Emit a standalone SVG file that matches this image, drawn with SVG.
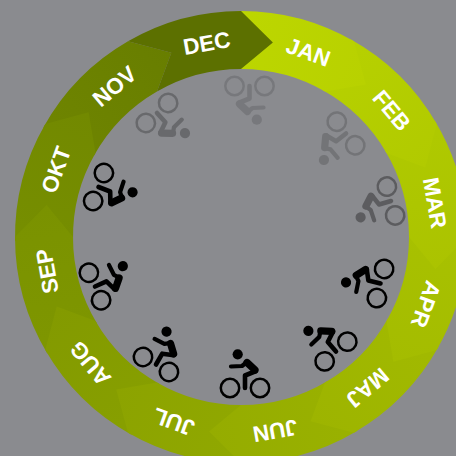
<svg xmlns="http://www.w3.org/2000/svg" width="456" height="456" viewBox="0 0 456 456">
<style>
.l{font:bold 22.5px "Liberation Sans",Arial,sans-serif;fill:#fff;text-anchor:middle}
.w{fill:none;stroke:#000;stroke-width:2.5}
.b{fill:none;stroke:#000;stroke-linecap:round;stroke-linejoin:round}
</style>
<defs>
<linearGradient id="gjan" gradientUnits="userSpaceOnUse" x1="241" y1="40" x2="365.8" y2="84.6"><stop offset="0" stop-color="#bcd600"/><stop offset="1" stop-color="#b8d100"/></linearGradient>
<linearGradient id="gfeb" href="#gjan"><stop offset="0" stop-color="#b6d000"/><stop offset="1" stop-color="#b1ca00"/></linearGradient>
<linearGradient id="gmar" href="#gjan"><stop offset="0" stop-color="#afc900"/><stop offset="1" stop-color="#abc300"/></linearGradient>
<linearGradient id="gapr" href="#gjan"><stop offset="0" stop-color="#a8c100"/><stop offset="1" stop-color="#a4bc00"/></linearGradient>
<linearGradient id="gmaj" href="#gjan"><stop offset="0" stop-color="#a1b900"/><stop offset="1" stop-color="#9db400"/></linearGradient>
<linearGradient id="gjun" href="#gjan"><stop offset="0" stop-color="#99b100"/><stop offset="1" stop-color="#95ac00"/></linearGradient>
<linearGradient id="gjul" href="#gjan"><stop offset="0" stop-color="#90a800"/><stop offset="1" stop-color="#8ca300"/></linearGradient>
<linearGradient id="gaug" href="#gjan"><stop offset="0" stop-color="#879f00"/><stop offset="1" stop-color="#839a00"/></linearGradient>
<linearGradient id="gsep" href="#gjan"><stop offset="0" stop-color="#7e9600"/><stop offset="1" stop-color="#7a9200"/></linearGradient>
<linearGradient id="gokt" href="#gjan"><stop offset="0" stop-color="#768e00"/><stop offset="1" stop-color="#728900"/></linearGradient>
<linearGradient id="gnov" href="#gjan"><stop offset="0" stop-color="#6e8400"/><stop offset="1" stop-color="#687e00"/></linearGradient>
<path id="seg" d="M237.06 11.03A226 226 0 0 1 354 41.28L365.8 84.6L325 91.5A168 168 0 0 0 238.07 69.03Z"/>
<path id="segn" d="M241 11A226 226 0 0 1 354 41.28L365.8 84.6L325 91.5A168 168 0 0 0 241 69L272.8 42.6Z"/>
<g id="bike">
<circle class="w" cx="-15" cy="0" r="9.2"/>
<circle class="w" cx="15" cy="0" r="9.2"/>
<circle cx="-7.3" cy="-33.7" r="5.1"/>
<path class="b" stroke-width="4.2" d="M-14-21.5L-3-22L2-26"/>
<path class="b" stroke-width="7.2" d="M2-25.5L10-18"/>
<path class="b" stroke-width="4.6" d="M11-17L0-12.5V0"/>
</g>
</defs>
<rect width="456" height="456" fill="#8a8b8f"/>
<g id="connectors"/>
<g id="nov"><use href="#seg" transform="rotate(300 241 237)" fill="url(#gnov)"/><text class="l" x="241" y="48" transform="rotate(320 241 237)">NOV</text></g>
<g id="okt"><use href="#seg" transform="rotate(270 241 237)" fill="url(#gokt)"/><text class="l" x="241" y="48" transform="rotate(290 241 237)">OKT</text></g>
<g id="sep"><use href="#seg" transform="rotate(240 241 237)" fill="url(#gsep)"/><text class="l" x="241" y="48" transform="rotate(260 241 237)">SEP</text></g>
<g id="aug"><use href="#seg" transform="rotate(210 241 237)" fill="url(#gaug)"/><text class="l" x="241" y="48" transform="rotate(230 241 237)">AUG</text></g>
<g id="jul"><use href="#seg" transform="rotate(180 241 237)" fill="url(#gjul)"/><text class="l" x="241" y="48" transform="rotate(200 241 237)">JUL</text></g>
<g id="jun"><use href="#seg" transform="rotate(150 241 237)" fill="url(#gjun)"/><text class="l" x="241" y="48" transform="rotate(170 241 237)">JUN</text></g>
<g id="maj"><use href="#seg" transform="rotate(120 241 237)" fill="url(#gmaj)"/><text class="l" x="241" y="48" transform="rotate(140 241 237)">MAJ</text></g>
<g id="apr"><use href="#seg" transform="rotate(90 241 237)" fill="url(#gapr)"/><text class="l" x="241" y="48" transform="rotate(110 241 237)">APR</text></g>
<g id="mar"><use href="#seg" transform="rotate(60 241 237)" fill="url(#gmar)"/><text class="l" x="241" y="48" transform="rotate(80 241 237)">MAR</text></g>
<g id="feb"><use href="#seg" transform="rotate(30 241 237)" fill="url(#gfeb)"/><text class="l" x="241" y="48" transform="rotate(50 241 237)">FEB</text></g>
<g id="jan"><use href="#seg" fill="url(#gjan)"/><text class="l" x="241" y="48" transform="rotate(20 241 237)">JAN</text></g>
<g id="dec"><use href="#segn" transform="rotate(330 241 237)" fill="#5c7000"/><text class="l" x="241" y="48" transform="rotate(350 241 237)">DEC</text></g>
<g id="bike1" opacity="0.13"><use href="#bike" transform="translate(249.5 86) rotate(180)"/></g>
<g id="bike2" opacity="0.16"><use href="#bike" transform="translate(346 133.5) rotate(232)"/></g>
<g id="bike3" opacity="0.33"><use href="#bike" transform="translate(391 201) rotate(254)"/></g>
<g id="bike4"><use href="#bike" transform="translate(380.5 283.5) rotate(284)"/></g>
<g id="bike5"><use href="#bike" transform="translate(336 351.5) rotate(319)"/></g>
<g id="bike6"><use href="#bike" transform="translate(245 388)"/></g>
<g id="bike7"><use href="#bike" transform="translate(156 364.5) rotate(30)"/></g>
<g id="bike8"><use href="#bike" transform="translate(95 286.5) rotate(66)"/></g>
<g id="bike9"><use href="#bike" transform="translate(98.5 187) rotate(111)"/></g>
<g id="bike10" opacity="0.24"><use href="#bike" transform="translate(157 113) rotate(138)"/></g>
</svg>
